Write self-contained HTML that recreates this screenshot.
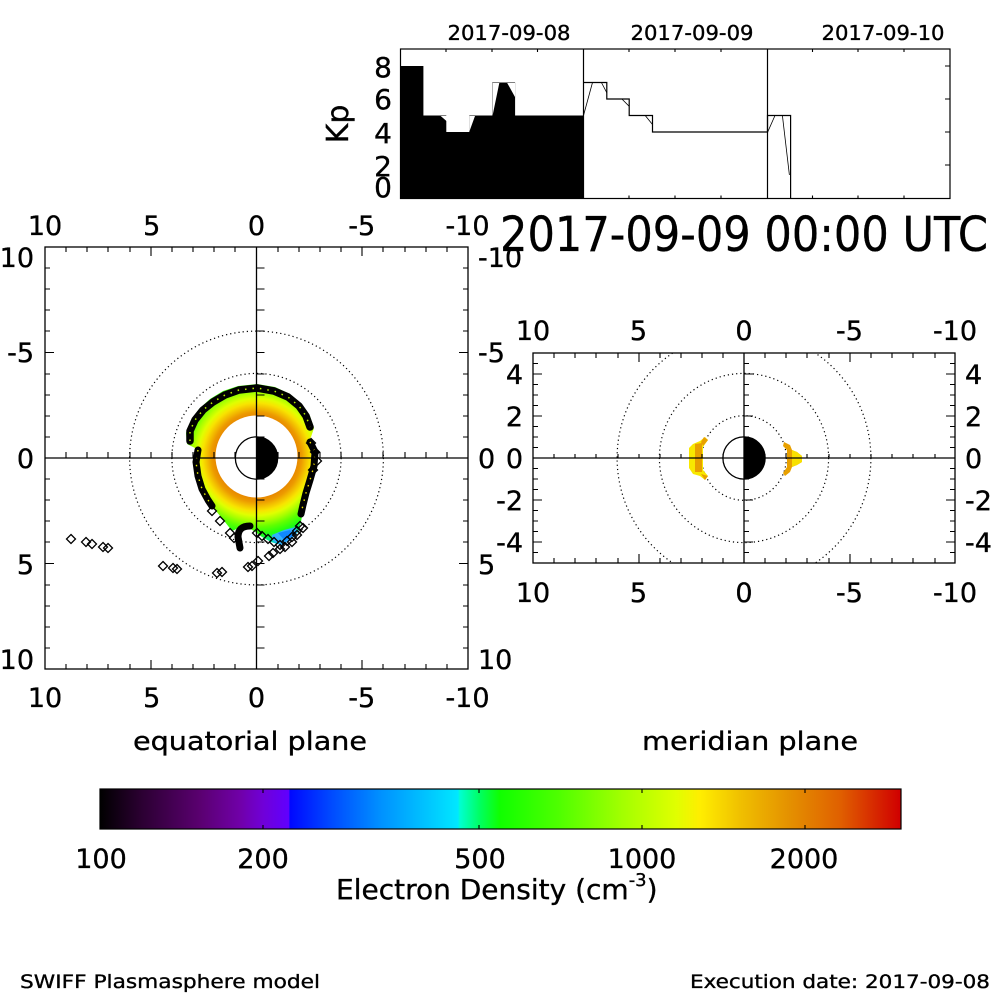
<!DOCTYPE html>
<html><head><meta charset="utf-8">
<style>
html,body{margin:0;padding:0;background:#fff;}
svg{display:block}
text{font-family:"DejaVu Sans","Liberation Sans",sans-serif;fill:#000;stroke:#000;stroke-width:0.35}
</style></head>
<body>
<svg width="1000" height="1000" viewBox="0 0 1000 1000" xmlns="http://www.w3.org/2000/svg">
<defs>
 <linearGradient id="cb" x1="100" x2="900" y1="0" y2="0" gradientUnits="userSpaceOnUse">
  <stop offset="0" stop-color="#000000"/>
  <stop offset="0.05" stop-color="#2a0030"/>
  <stop offset="0.125" stop-color="#5a0070"/>
  <stop offset="0.175" stop-color="#7000a8"/>
  <stop offset="0.204" stop-color="#7000d8"/>
  <stop offset="0.236" stop-color="#6000ff"/>
  <stop offset="0.2375" stop-color="#0008ff"/>
  <stop offset="0.2875" stop-color="#0048ff"/>
  <stop offset="0.35" stop-color="#0090ff"/>
  <stop offset="0.4125" stop-color="#00c8ff"/>
  <stop offset="0.4475" stop-color="#00e8ff"/>
  <stop offset="0.45" stop-color="#00ffd0"/>
  <stop offset="0.475" stop-color="#00ff60"/>
  <stop offset="0.5" stop-color="#10ff00"/>
  <stop offset="0.575" stop-color="#50ff00"/>
  <stop offset="0.65" stop-color="#a0ff00"/>
  <stop offset="0.72" stop-color="#e0ff00"/>
  <stop offset="0.75" stop-color="#ffee00"/>
  <stop offset="0.8" stop-color="#f0c000"/>
  <stop offset="0.8625" stop-color="#e49000"/>
  <stop offset="0.925" stop-color="#e06000"/>
  <stop offset="1" stop-color="#d00000"/>
 </linearGradient>
 <radialGradient id="dens" cx="256.5" cy="457" r="90" fx="256.5" fy="457" gradientUnits="userSpaceOnUse">
  <stop offset="0" stop-color="#e88a00"/>
  <stop offset="0.456" stop-color="#e88a00"/>
  <stop offset="0.5" stop-color="#ec9a00"/>
  <stop offset="0.54" stop-color="#f2b800"/>
  <stop offset="0.6" stop-color="#f8e400"/>
  <stop offset="0.65" stop-color="#e0ff00"/>
  <stop offset="0.71" stop-color="#a8ff00"/>
  <stop offset="0.78" stop-color="#60ff00"/>
  <stop offset="0.86" stop-color="#20ff10"/>
  <stop offset="0.944" stop-color="#00e8a0"/>
  <stop offset="1" stop-color="#00b8f0"/>
 </radialGradient>
 <path id="d" d="M0,-4.5L4.5,0L0,4.5L-4.5,0Z" fill="none" stroke="#000" stroke-width="1.3"/>
 <clipPath id="eqc"><rect x="45" y="247" width="423" height="422"/></clipPath>
 <clipPath id="mc"><rect x="533" y="353" width="422" height="210"/></clipPath>
</defs>

<!-- ================= Kp panel ================= -->
<text x="509" y="40" font-size="20" text-anchor="middle" textLength="123" lengthAdjust="spacingAndGlyphs">2017-09-08</text>
<text x="692" y="40" font-size="20" text-anchor="middle" textLength="123" lengthAdjust="spacingAndGlyphs">2017-09-09</text>
<text x="883" y="40" font-size="20" text-anchor="middle" textLength="123" lengthAdjust="spacingAndGlyphs">2017-09-10</text>

<path d="M400.5,198 V66 H423.4 V115.5 H446.3 V132 H469.3 V115.5 H492.2 V82.5 H515.1 V115.5 H583.5 V198 Z" fill="#000"/>
<path d="M440.7,116H447.3V121.7Z M469.3,116H475L469.3,131.7Z M492.5,83H499.3L492.5,116Z M507.2,83H515V97Z" fill="#fff"/>
<path d="M583.5,82.5 H606.8 V99 H629.2 V115.5 H652.5 V132 H767.5 V115.5 H790.6 V198" fill="none" stroke="#000" stroke-width="1.2"/>
<path d="M583.5,115.5 L592.5,82.5 M601.4,82.5 L606.8,92.7 M621.9,99 L629.2,106.3 M645.2,115.5 L652.5,124.5 M767.7,132 L775,115.5 M782.4,115.5 L789.4,175" fill="none" stroke="#000" stroke-width="0.8"/>
<rect x="400.5" y="49" width="549.5" height="149.5" fill="none" stroke="#000" stroke-width="1.2"/>
<path d="M583.5,49V198.5 M767.5,49V198.5" stroke="#000" stroke-width="1.2"/>
<path d="M446,49v3M492,49v3M537.5,49v3M629,49v3M675,49v3M721,49v3M812.5,49v3M858,49v3M904,49v3
 M446,198.5v-3M492,198.5v-3M537.5,198.5v-3M629,198.5v-3M675,198.5v-3M721,198.5v-3M812.5,198.5v-3M858,198.5v-3M904,198.5v-3
 M950,66h-5M950,99h-5M950,132h-5M950,165h-5" stroke="#000" stroke-width="1.1" fill="none"/>
<g font-size="28" text-anchor="end">
 <text x="392" y="77">8</text>
 <text x="392" y="109">6</text>
 <text x="392" y="143">4</text>
 <text x="392" y="176">2</text>
 <text x="392" y="197">0</text>
</g>
<text transform="translate(348,124) rotate(-90)" font-size="30" text-anchor="middle">Kp</text>

<!-- Title -->
<text x="500" y="251" font-size="48" textLength="488" lengthAdjust="spacingAndGlyphs">2017-09-09 00:00 UTC</text>

<!-- ================= Equatorial plane ================= -->
<g clip-path="url(#eqc)">
 <circle cx="256.5" cy="458" r="84.6" fill="none" stroke="#000" stroke-width="1.2" stroke-dasharray="1.2 3"/>
 <circle cx="256.5" cy="458" r="126.9" fill="none" stroke="#000" stroke-width="1.2" stroke-dasharray="1.2 3"/>
</g>
<!-- density -->
<path d="M187,444 L186,433 L191,420 L199,409 L210,399 L223,391 L238,386 L257,384 L275,387 L290,394 L302,404 L310,416 L314,428 L311,437 L308,441 L311,452 L312,465 L310,480 L306,495 L303,510 L301,522 L298,532 L291,540 L281,545 L271,542 L262,537 L254,531 L247,527 L239,528 L232,531 L225,522 L216,511 L207,499 L200,485 L196,470 L195,457 L197,449 L193,447 Z" fill="url(#dens)"/>
<path d="M272,535 L284,530 L296,527 L297,533 L291,540 L282,545 L273,541 Z" fill="#30b0ff"/>
<path d="M278,533 L290,530 L293,536 L285,541 Z" fill="#1088ff"/>
<circle cx="256.5" cy="456.5" r="41" fill="#fff"/>
<!-- plasmapause diamonds -->
<path d="M190,441 L190,431 L195,420 L203,410 L213,402 L225,395 L239,390 L257,388 L274,391 L288,397 L299,406 L306,416 L310,427" fill="none" stroke="#000" stroke-width="7.5" stroke-linejoin="round" stroke-linecap="round"/>
<path d="M190,441 L190,431 L195,420 L203,410 L213,402 L225,395 L239,390 L257,388 L274,391 L288,397 L299,406 L306,416 L310,427" fill="none" stroke="#b8f000" stroke-width="1.5" stroke-dasharray="1.5 6"/>
<path d="M198,450 L196,462 L198,476 L202,489 L208,500 L212,506" fill="none" stroke="#000" stroke-width="7" stroke-linejoin="round" stroke-linecap="round"/>
<path d="M198,450 L196,462 L198,476 L202,489 L208,500 L212,506" fill="none" stroke="#e8f000" stroke-width="1.4" stroke-dasharray="1.5 6"/>
<path d="M310,442 L315,452 L314,466 L310,480 L306,493 L303,505 L301,514" fill="none" stroke="#000" stroke-width="7" stroke-linejoin="round" stroke-linecap="round"/>
<path d="M310,442 L315,452 L314,466 L310,480 L306,493 L303,505 L301,514" fill="none" stroke="#f0e000" stroke-width="1.4" stroke-dasharray="1.5 6"/>
<path d="M250,526 Q238,526 238,537 L240,548" fill="none" stroke="#000" stroke-width="7" stroke-linecap="round" stroke-linejoin="round"/>
<g>
 <use href="#d" x="311" y="443"/><use href="#d" x="315" y="452"/><use href="#d" x="317" y="461"/><use href="#d" x="313" y="470"/>
 <use href="#d" x="212" y="511"/><use href="#d" x="220" y="521"/><use href="#d" x="230" y="533"/><use href="#d" x="234" y="538"/>
 <use href="#d" x="257" y="533"/><use href="#d" x="262" y="536"/><use href="#d" x="268" y="539"/><use href="#d" x="274" y="542"/>
 <use href="#d" x="280" y="545"/><use href="#d" x="287" y="541"/><use href="#d" x="292" y="537"/><use href="#d" x="297" y="531"/>
 <use href="#d" x="300" y="526"/><use href="#d" x="303" y="528"/><use href="#d" x="297" y="535"/><use href="#d" x="292" y="542"/>
 <use href="#d" x="285" y="547"/><use href="#d" x="280" y="549"/><use href="#d" x="273" y="553"/><use href="#d" x="269" y="556"/>
 <use href="#d" x="258" y="561"/><use href="#d" x="252" y="566"/><use href="#d" x="248" y="567"/>
 <use href="#d" x="217" y="573"/><use href="#d" x="222" y="572"/>
 <use href="#d" x="163" y="566"/><use href="#d" x="173" y="568"/><use href="#d" x="177" y="569"/>
 <use href="#d" x="71" y="539"/><use href="#d" x="86" y="542"/><use href="#d" x="92" y="544"/><use href="#d" x="103" y="547"/><use href="#d" x="108" y="548"/>
</g>
<!-- earth -->
<circle cx="256.5" cy="458" r="21.15" fill="#fff" stroke="#000" stroke-width="1.3"/>
<path d="M256.5,436.85 A21.15,21.15 0 0 1 256.5,479.15 Z" fill="#000"/>
<!-- frame and axes -->
<rect x="45" y="247" width="423" height="422" fill="none" stroke="#000" stroke-width="1.3"/>
<path d="M256.5,247V669 M45,458H468" stroke="#000" stroke-width="1.3"/>
<path fill="none" stroke="#000" stroke-width="1.1" d="
M66,247v5M87,247v5M108,247v5M130,247v5M151,247v9M172,247v5M193,247v5M214,247v5M235,247v5M278,247v5M299,247v5M320,247v5M341,247v5M362,247v9M383,247v5M405,247v5M426,247v5M447,247v5
M66,669v-5M87,669v-5M108,669v-5M130,669v-5M151,669v-9M172,669v-5M193,669v-5M214,669v-5M235,669v-5M278,669v-5M299,669v-5M320,669v-5M341,669v-5M362,669v-9M383,669v-5M405,669v-5M426,669v-5M447,669v-5
M45,268h5M45,289h5M45,310h5M45,331h5M45,352.5h9M45,374h5M45,395h5M45,416h5M45,437h5M45,479h5M45,500h5M45,521h5M45,542h5M45,563.5h9M45,585h5M45,606h5M45,627h5M45,648h5
M468,268h-5M468,289h-5M468,310h-5M468,331h-5M468,352.5h-9M468,374h-5M468,395h-5M468,416h-5M468,437h-5M468,479h-5M468,500h-5M468,521h-5M468,542h-5M468,563.5h-9M468,585h-5M468,606h-5M468,627h-5M468,648h-5
M256.5,268h8M256.5,289h8M256.5,310h8M256.5,331h8M256.5,352.5h8M256.5,374h8M256.5,395h8M256.5,416h8M256.5,437h8M256.5,479h8M256.5,500h8M256.5,521h8M256.5,542h8M256.5,563.5h8M256.5,585h8M256.5,606h8M256.5,627h8M256.5,648h8
M66,458v-6M87,458v-6M108,458v-6M130,458v-6M151,458v-6M172,458v-6M193,458v-6M214,458v-6M235,458v-6M278,458v-6M299,458v-6M320,458v-6M341,458v-6M362,458v-6M383,458v-6M405,458v-6M426,458v-6M447,458v-6"/>
<!-- labels -->
<g font-size="27" text-anchor="middle">
 <text x="45" y="235">10</text><text x="151.7" y="235">5</text><text x="256.5" y="235">0</text><text x="361.7" y="235">-5</text><text x="467.5" y="235">-10</text>
 <text x="45" y="707">10</text><text x="151.7" y="707">5</text><text x="256.5" y="707">0</text><text x="361.7" y="707">-5</text><text x="467.5" y="707">-10</text>
</g>
<g font-size="27" text-anchor="end">
 <text x="34" y="267">10</text><text x="34" y="362">-5</text><text x="34" y="468">0</text><text x="34" y="574">5</text><text x="34" y="669">10</text>
</g>
<g font-size="27" text-anchor="start">
 <text x="478" y="267">-10</text><text x="478" y="362">-5</text><text x="478" y="468">0</text><text x="478" y="574">5</text><text x="478" y="669">10</text>
</g>
<text x="250" y="750" font-size="26" text-anchor="middle" textLength="234" lengthAdjust="spacingAndGlyphs">equatorial plane</text>

<!-- ================= Meridian plane ================= -->
<g clip-path="url(#mc)">
 <circle cx="744" cy="458" r="42.3" fill="none" stroke="#000" stroke-width="1.2" stroke-dasharray="1.2 3"/>
 <circle cx="744" cy="458" r="84.6" fill="none" stroke="#000" stroke-width="1.2" stroke-dasharray="1.2 3"/>
 <circle cx="744" cy="458" r="126.9" fill="none" stroke="#000" stroke-width="1.2" stroke-dasharray="1.2 3"/>
</g>
<path d="M705,437 L708,440 L703,447 L703,470 L708,476 L705,480 L700,476 L693,474 L689,468 L689,448 L693,444 L700,441 Z" fill="#f8e800"/>
<path d="M695,444 L702,443 L702,472 L695,472 Z" fill="#e8a000"/>
<path d="M704,437 L708,440 L703,446 L701,442 Z M701,474 L708,476 L705,480 Z" fill="#e8a000"/>
<path d="M784,442 L790,445 L792,450 L797,452 L802,456 L802,462 L797,465 L792,467 L790,472 L785,476 L783,473 L787,467 L787,450 L783,446 Z" fill="#e8a000"/>
<path d="M792,450 L797,452 L802,456 L802,462 L797,465 L792,467 Z" fill="#f8e000"/>
<circle cx="744" cy="458" r="21.1" fill="#fff" stroke="#000" stroke-width="1.3"/>
<path d="M744,436.9 A21.1,21.1 0 0 1 744,479.1 Z" fill="#000"/>
<rect x="533" y="353" width="422" height="210" fill="none" stroke="#000" stroke-width="1.3"/>
<path d="M744,353V563 M533,458H955" stroke="#000" stroke-width="1.3"/>
<path fill="none" stroke="#000" stroke-width="1.1" d="
M554,353v5M575,353v5M596,353v5M618,353v5M639,353v9M660,353v5M681,353v5M702,353v5M723,353v5M765,353v5M786,353v5M807,353v5M829,353v5M850,353v9M871,353v5M892,353v5M913,353v5M935,353v5
M554,563v-5M575,563v-5M596,563v-5M618,563v-5M639,563v-9M660,563v-5M681,563v-5M702,563v-5M723,563v-5M765,563v-5M786,563v-5M807,563v-5M829,563v-5M850,563v-9M871,563v-5M892,563v-5M913,563v-5M935,563v-5
M533,363.5h5M533,374h9M533,384.5h5M533,395h5M533,405.5h5M533,416h9M533,426.5h5M533,437h5M533,447.5h5M533,468.5h5M533,479h5M533,489.5h5M533,500h9M533,510.5h5M533,521h5M533,531.5h5M533,542h9M533,552.5h5
M955,363.5h-5M955,374h-9M955,384.5h-5M955,395h-5M955,405.5h-5M955,416h-9M955,426.5h-5M955,437h-5M955,447.5h-5M955,468.5h-5M955,479h-5M955,489.5h-5M955,500h-9M955,510.5h-5M955,521h-5M955,531.5h-5M955,542h-9M955,552.5h-5
M744,363.5h5M744,374h9M744,384.5h5M744,395h5M744,405.5h5M744,416h9M744,426.5h5M744,437h5M744,447.5h5M744,468.5h5M744,479h5M744,489.5h5M744,500h9M744,510.5h5M744,521h5M744,531.5h5M744,542h9M744,552.5h5
M554,458v-4M575,458v-4M596,458v-4M618,458v-4M639,458v-4M660,458v-4M681,458v-4M702,458v-4M723,458v-4M765,458v-4M786,458v-4M807,458v-4M829,458v-4M850,458v-4M871,458v-4M892,458v-4M913,458v-4M935,458v-4"/>
<g font-size="27" text-anchor="middle">
 <text x="533" y="340">10</text><text x="638.5" y="340">5</text><text x="744" y="340">0</text><text x="849.5" y="340">-5</text><text x="955" y="340">-10</text>
 <text x="533" y="602">10</text><text x="638.5" y="602">5</text><text x="744" y="602">0</text><text x="849.5" y="602">-5</text><text x="955" y="602">-10</text>
</g>
<g font-size="27" text-anchor="end">
 <text x="523" y="384">4</text><text x="523" y="426">2</text><text x="523" y="468">0</text><text x="523" y="510">-2</text><text x="523" y="552">-4</text>
</g>
<g font-size="27" text-anchor="start">
 <text x="965" y="384">4</text><text x="965" y="426">2</text><text x="965" y="468">0</text><text x="965" y="510">-2</text><text x="965" y="552">-4</text>
</g>
<text x="750" y="750" font-size="26" text-anchor="middle" textLength="216" lengthAdjust="spacingAndGlyphs">meridian plane</text>

<!-- ================= Colorbar ================= -->
<rect x="100" y="789" width="801" height="40" fill="url(#cb)" stroke="#000" stroke-width="1.2"/>
<path d="M263,789v4M479,789v4M642,789v4M805,789v4M263,829v-4M479,829v-4M642,829v-4M805,829v-4" stroke="#000" stroke-width="1.1"/>
<g font-size="27" text-anchor="middle">
 <text x="101" y="868">100</text><text x="263" y="868">200</text><text x="480" y="868">500</text><text x="642" y="868">1000</text><text x="804" y="868">2000</text>
</g>
<text x="336" y="899" font-size="28">Electron Density (cm<tspan font-size="18" dy="-13">-3</tspan><tspan dy="13">)</tspan></text>

<!-- footer -->
<text x="20" y="988" font-size="19" textLength="300" lengthAdjust="spacingAndGlyphs">SWIFF Plasmasphere model</text>
<text x="690" y="988" font-size="19" textLength="300" lengthAdjust="spacingAndGlyphs">Execution date: 2017-09-08</text>
</svg>
</body></html>
